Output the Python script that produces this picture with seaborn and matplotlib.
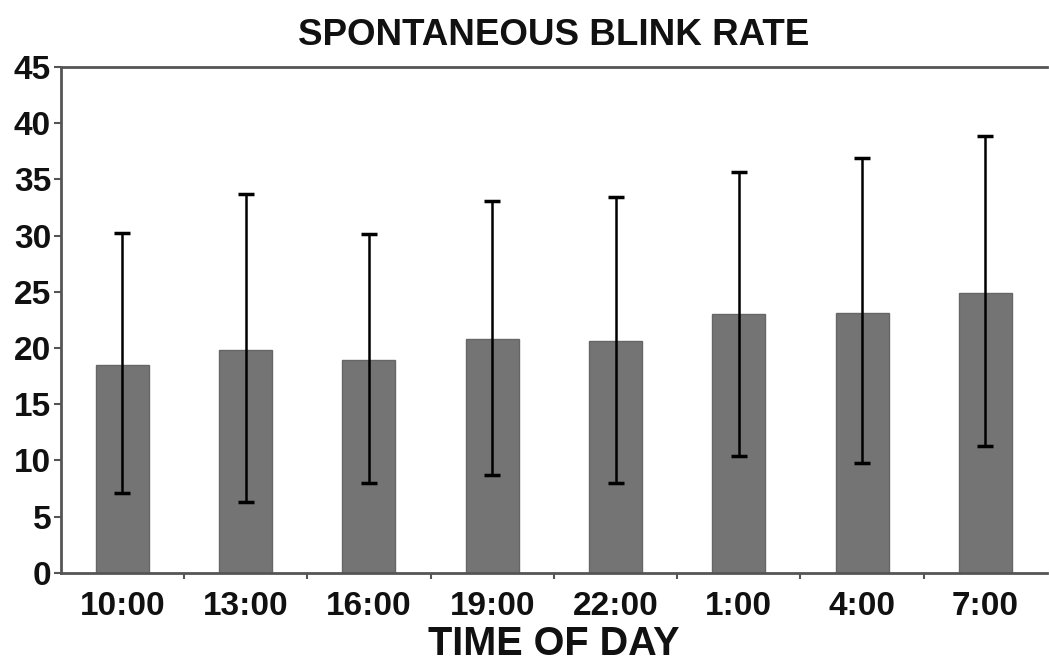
import numpy as np
import pandas as pd
import matplotlib
matplotlib.use("Agg")
import matplotlib.pyplot as plt
import seaborn as sns

times = ['10:00', '13:00', '16:00', '19:00', '22:00', '1:00', '4:00', '7:00']
blink_mean = [18.5, 19.8, 18.9, 20.8, 20.6, 23.0, 23.1, 24.9]
err_top = [30.2, 33.7, 30.1, 33.1, 33.4, 35.7, 36.9, 38.9]
err_bottom = [7.1, 6.3, 8.0, 8.7, 8.0, 10.4, 9.8, 11.3]

df = pd.DataFrame({'time': times, 'rate': blink_mean})

sns.set_style('white')
plt.rcParams['font.family'] = ['Liberation Sans', 'DejaVu Sans']

fig = plt.figure(figsize=(10.49, 6.63), dpi=100)
ax = fig.add_axes([0.058, 0.136, 0.94, 0.763])

sns.barplot(data=df, x='time', y='rate', color='#747474', width=0.43,
            edgecolor='#666666', linewidth=1, saturation=1, ax=ax)

lower = np.array(blink_mean) - np.array(err_bottom)
upper = np.array(err_top) - np.array(blink_mean)
ax.errorbar(np.arange(len(times)), blink_mean, yerr=[lower, upper], fmt='none',
            ecolor='black', elinewidth=1.8, capsize=6, capthick=2.5)

ax.set_xlim(-0.5, len(times) - 0.5)
ax.set_ylim(0, 45)
ax.set_yticks(range(0, 46, 5))

for side in ['left', 'bottom', 'top']:
    ax.spines[side].set_color('#555555')
    ax.spines[side].set_linewidth(2)
ax.spines['right'].set_visible(False)

ax.tick_params(axis='y', direction='out', length=5, width=1.5, color='#555555',
               labelsize=24, pad=2, left=True, labelcolor='#111111')
ax.tick_params(axis='x', which='major', length=0, labelsize=24, pad=13,
               labelcolor='#111111')
ax.set_xticks(np.arange(len(times) - 1) + 0.5, minor=True)
ax.tick_params(axis='x', which='minor', direction='out', length=4, width=1.5,
               color='#555555', bottom=True)
for lab in ax.get_xticklabels() + ax.get_yticklabels():
    lab.set_fontweight('bold')

ax.set_ylabel('')
ax.set_xlabel('TIME OF DAY', fontsize=28.5, fontweight='bold', labelpad=2,
              color='#111111')
ax.set_title('SPONTANEOUS BLINK RATE', fontsize=26.5, fontweight='bold', pad=16,
             color='#111111')

fig.savefig('out.png', dpi=100)
